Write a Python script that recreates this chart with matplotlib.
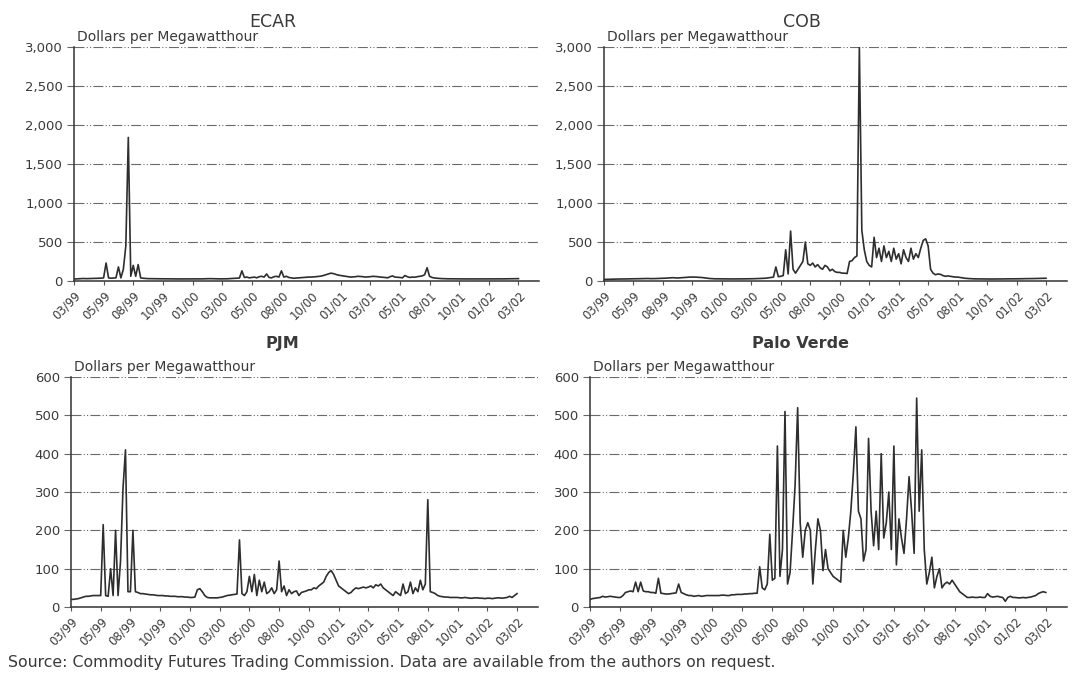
import numpy as np
import matplotlib
matplotlib.use('Agg')
import matplotlib.pyplot as plt
from matplotlib.ticker import FuncFormatter

plt.rcParams['font.family'] = ['DejaVu Sans']

# category ticks along the x axis (evenly spaced in the original chart)
tick_labels = ['03/99', '05/99', '08/99', '10/99', '01/00', '03/00', '05/00', '08/00',
               '10/00', '01/01', '03/01', '05/01', '08/01', '10/01', '01/02', '03/02']
steps_per_tick = 12

# prices in dollars per megawatthour, one row per tick interval
ecar = [
    25, 27, 28, 30, 32, 30, 31, 33, 34, 35, 35, 36,
    40, 230, 40, 35, 38, 40, 180, 40, 150, 450, 1840, 60,
    200, 60, 210, 40, 35, 32, 30, 30, 30, 29, 28, 28,
    28, 28, 27, 27, 27, 26, 26, 26, 25, 25, 25, 25,
    25, 25, 26, 26, 27, 28, 30, 30, 29, 28, 27, 27,
    27, 28, 28, 30, 31, 33, 35, 38, 130, 45, 50, 40,
    45, 50, 40, 55, 60, 50, 90, 45, 40, 55, 60, 50,
    130, 50, 60, 45, 40, 35, 38, 40, 42, 45, 48, 50,
    50, 52, 55, 58, 62, 70, 80, 90, 100, 95, 85, 75,
    70, 65, 60, 55, 50, 52, 55, 60, 58, 55, 50, 52,
    55, 60, 58, 55, 50, 48, 45, 40, 55, 65, 50, 48,
    45, 40, 70, 55, 45, 50, 48, 55, 60, 65, 80, 170,
    60, 45, 38, 35, 32, 30, 30, 28, 28, 28, 27, 27,
    27, 26, 26, 26, 25, 25, 25, 25, 26, 26, 26, 26,
    26, 26, 25, 25, 26, 27, 27, 28, 28, 28, 29, 30,
    30,
]

cob = [
    20, 21, 22, 22, 23, 24, 25, 25, 26, 26, 27, 27,
    28, 28, 29, 30, 30, 31, 32, 30, 30, 31, 32, 33,
    35, 36, 38, 40, 42, 40, 38, 40, 42, 45, 48, 50,
    50, 50, 48, 46, 44, 40, 36, 32, 30, 28, 28, 27,
    27, 27, 26, 26, 26, 26, 26, 27, 27, 27, 28, 28,
    28, 29, 30, 30, 32, 34, 36, 40, 45, 50, 180, 55,
    60, 70, 400, 90, 640, 150, 100, 150, 200, 250, 500, 220,
    200, 230, 180, 210, 170, 150, 200, 180, 130, 150, 120, 110,
    110, 100, 100, 95, 250, 260, 300, 320, 3000, 650, 400, 250,
    200, 180, 560, 300, 420, 250, 450, 300, 380, 250, 420, 280,
    350, 220, 400, 300, 250, 420, 280, 350, 300, 420, 520, 540,
    450, 150, 100, 80, 90, 85, 70, 60, 65, 60, 55, 50,
    50, 45, 40, 35, 32, 30, 28, 27, 27, 26, 26, 26,
    25, 25, 25, 25, 26, 26, 26, 27, 27, 27, 28, 28,
    28, 28, 29, 29, 30, 30, 30, 31, 32, 32, 34, 35,
    35,
]

pjm = [
    20, 20, 21, 22, 24, 26, 28, 28, 29, 30, 30, 30,
    30, 215, 30, 28, 100, 30, 200, 30, 120, 310, 410, 40,
    40, 200, 40, 38, 35, 35, 34, 33, 32, 32, 31, 30,
    30, 30, 29, 29, 28, 28, 28, 27, 27, 27, 26, 26,
    25, 25, 26, 45, 48, 40, 30, 25, 24, 24, 24, 24,
    25, 26, 28, 30, 31, 32, 33, 34, 175, 35, 30, 40,
    80, 40, 85, 30, 70, 40, 65, 35, 40, 50, 35, 45,
    120, 40, 55, 30, 45, 35, 40, 42, 30, 38, 40, 42,
    45, 45, 50, 48, 55, 60, 65, 80, 90, 95, 85, 70,
    55, 50, 45, 40, 35, 38, 45, 50, 48, 50, 52, 50,
    52, 55, 50, 58, 55, 60, 50, 45, 40, 35, 30, 40,
    35, 30, 60, 35, 40, 65, 35, 50, 40, 70, 45, 60,
    280, 40, 38, 35, 30, 28, 27, 26, 26, 25, 25, 25,
    25, 24, 24, 25, 24, 23, 23, 24, 24, 23, 23, 22,
    23, 23, 22, 23, 24, 24, 23, 24, 25, 28, 25, 30,
    35,
]

palo_verde = [
    20, 22, 23, 24, 25, 28, 26, 27, 28, 27, 26, 25,
    25, 30, 38, 40, 42, 40, 65, 40, 65, 42, 40, 40,
    38, 38, 36, 75, 36, 35, 34, 34, 35, 36, 37, 60,
    38, 35, 32, 30, 30, 28, 29, 30, 28, 29, 30, 30,
    30, 30, 30, 30, 31, 31, 30, 30, 32, 32, 33, 33,
    33, 34, 34, 35, 35, 36, 36, 105, 50, 45, 60, 190,
    70, 75, 420, 80, 150, 510, 60, 90, 200, 320, 520, 220,
    130, 200, 220, 200, 60, 150, 230, 200, 95, 150, 100, 90,
    80, 75, 70, 65, 200, 130, 180, 250, 350, 470, 250, 230,
    120, 150, 440, 250, 160, 250, 150, 400, 180, 220, 300, 150,
    420, 110, 230, 180, 140, 230, 340, 250, 140, 545, 250, 410,
    150, 60, 90, 130, 50, 80, 100, 50, 60, 65, 60, 70,
    60, 50, 40, 35, 30, 25, 25, 26, 25, 25, 26, 25,
    25, 35, 28, 26, 27, 28, 26, 25, 15, 25, 28, 25,
    25, 24, 24, 25, 24, 25, 26, 28, 30, 35, 38, 40,
    38,
]

# name, series, y max, y step, axes rect, title weight, title size, title centre (fig x, fig y)
panels = [
    ('ECAR', ecar, 3000, 500, [0.069, 0.5825, 0.434, 0.3477], 'normal', 12.5, (0.2547, 0.960)),
    ('COB', cob, 3000, 500, [0.5634, 0.5825, 0.4316, 0.3477], 'normal', 12.5, (0.7481, 0.960)),
    ('PJM', pjm, 600, 100, [0.0662, 0.098, 0.4355, 0.3418], 'bold', 11.5, (0.2631, 0.483)),
    ('Palo Verde', palo_verde, 600, 100, [0.5504, 0.098, 0.4450, 0.3418], 'bold', 11.5, (0.7463, 0.483)),
]

fig = plt.figure(figsize=(10.72, 6.73), dpi=100)
fig.patch.set_facecolor('white')

for name, values, ymax, ystep, rect, weight, tsize, tpos in panels:
    ax = fig.add_axes(rect)
    x = np.arange(len(values)) / steps_per_tick
    ax.plot(x, values, color='#2e2e2e', lw=1.2, zorder=3)

    ax.set_xlim(0, 15.7)
    ax.set_ylim(0, ymax)
    ax.set_yticks(np.arange(0, ymax + 1, ystep))
    ax.yaxis.set_major_formatter(FuncFormatter(lambda v, p: '{:,.0f}'.format(v)))
    ax.set_xticks(range(len(tick_labels)))
    ax.set_xticklabels(tick_labels, rotation=45, ha='right', rotation_mode='anchor')

    ax.grid(axis='y', color='#6a6a6a', lw=0.8, dashes=(9, 2, 1, 2, 1, 2))
    ax.set_axisbelow(True)
    for s in ['top', 'right']:
        ax.spines[s].set_visible(False)
    ax.spines['left'].set_color('#333333')
    ax.spines['bottom'].set_color('#333333')
    ax.spines['left'].set_linewidth(1.1)
    ax.spines['bottom'].set_linewidth(1.1)
    ax.tick_params(axis='y', length=5, color='#666666', labelsize=9.5, labelcolor='#3a3a3a', pad=3)
    ax.tick_params(axis='x', length=3, color='#555555', labelsize=8.5, labelcolor='#3a3a3a', pad=3)

    fig.text(tpos[0], tpos[1], name, fontsize=tsize, fontweight=weight, color='#3a3a3a',
             ha='center', va='baseline')
    ax.annotate('Dollars per Megawatthour', xy=(0, 1), xycoords='axes fraction',
                xytext=(2, 4), textcoords='offset points',
                fontsize=10, color='#3a3a3a', ha='left', va='baseline')

fig.text(0.007, 0.009, 'Source: Commodity Futures Trading Commission. Data are available from the authors on request.',
         fontsize=11.3, color='#3a3a3a', ha='left', va='baseline')

fig.savefig('out.png', dpi=100, facecolor='white')
